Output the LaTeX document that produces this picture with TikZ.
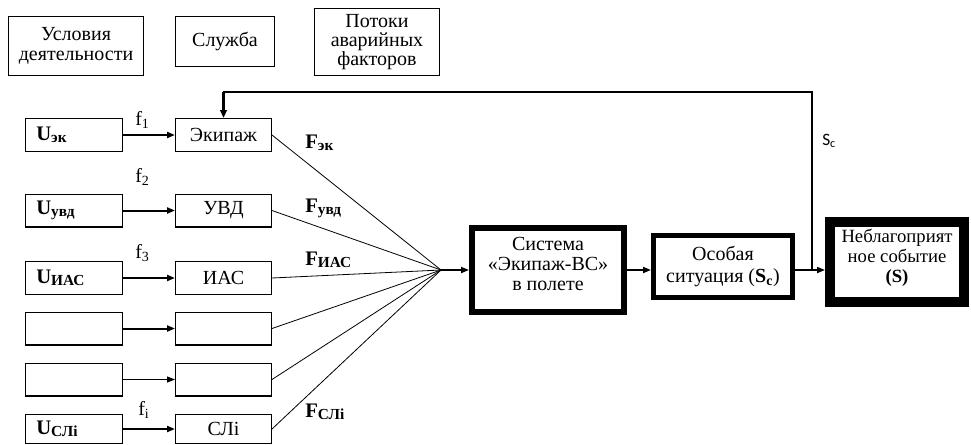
\documentclass[tikz,border=0pt]{standalone}
\usepackage{fontspec}
\setmainfont{Liberation Serif}
\newfontfamily\calibrifont{Carlito}
\usetikzlibrary{arrows.meta}

% bold symbol with a smaller, slightly lowered bold index
\newcommand\idxlbl[2]{{\fontsize{15.5}{16}\selectfont\textbf{#1}}\raisebox{-1.5pt}{\fontsize{11.5}{12}\selectfont\bfseries #2}}

\begin{document}
\begin{tikzpicture}[x=0.75pt,y=-0.75pt,
  font=\fontsize{15}{15}\selectfont,
  frame/.style={draw, line width=0.9pt, inner sep=0pt, align=center},
  ubox/.style={frame, minimum height=24.6pt, text width=56.6pt, inner xsep=8pt, align=left},
  mbox/.style={frame, minimum width=71.85pt, minimum height=24.6pt},
  heavy/.style={draw, inner sep=0pt, align=center},
  link/.style={line width=1.5pt, -{Triangle[length=6pt,width=4.5pt]}},
  ray/.style={line width=0.6pt},
  lbl/.style={inner sep=0pt, anchor=west},
]
\useasboundingbox (0,0) rectangle (971,444);

% header boxes
\node[frame, minimum width=101.1pt, minimum height=44.1pt] (cond) at (76,46) {Условия\\деятельности};
\node[frame, minimum width=74.1pt, minimum height=37.35pt] (serv) at (225,41.5) {Служба};
\node[frame, minimum width=93.6pt, minimum height=50.1pt, font=\fontsize{15}{14}\selectfont] (flow) at (377,42) {Потоки\\аварийных\\факторов};

% conditions column
\node[ubox] (u1) at (74,135) {\idxlbl{U}{эк}};
\node[ubox] (u2) at (74,210.5) {\idxlbl{U}{увд}};
\node[ubox] (u3) at (74,278) {\idxlbl{U}{ИАС}};
\node[ubox] (u4) at (74,328.5) {};
\node[ubox] (u5) at (74,379.5) {};
\node[ubox, minimum height=21.6pt] (u6) at (74,429) {\idxlbl{U}{СЛi}};

% service column
\node[mbox] (m1) at (223.5,135) {Экипаж};
\node[mbox] (m2) at (223.5,210.5) {УВД};
\node[mbox] (m3) at (223.5,278) {ИАС};
\node[mbox] (m4) at (223.5,328.5) {};
\node[mbox] (m5) at (223.5,379.5) {};
\node[mbox, minimum height=21.6pt] (m6) at (223.5,429) {СЛi};

% condition -> service arrows
\draw[link] (u1) -- (m1);
\draw[link] (u2) -- (m2);
\draw[link] (u3) -- (m3);
\draw[link] (u4) -- (m4);
\draw[link, line width=0.9pt] (u5) -- (m5);
\draw[link] (u6) -- (m6);

\node[lbl] (f1) at (135,120) {f\textsubscript{1}};
\node[lbl] (f2) at (135,177) {f\textsubscript{2}};
\node[lbl] (f3) at (135,253) {f\textsubscript{3}};
\node[lbl] (fi) at (138,410) {f\textsubscript{i}};

% factor fan converging on the system
\coordinate (hub) at (441,270);
\foreach \n in {m1,m2,m3,m4,m5,m6} \draw[ray] (\n.east) -- (hub);

\node[lbl] (F1) at (305,143) {\idxlbl{F}{эк}};
\node[lbl] (F2) at (305,208) {\idxlbl{F}{увд}};
\node[lbl] (F3) at (305,260) {\idxlbl{F}{ИАС}};
\node[lbl] (F4) at (305,412) {\idxlbl{F}{СЛi}};

% main chain
\node[heavy, line width=4.5pt, minimum width=114pt, minimum height=63pt] (sys) at (548,270) {Система\\«Экипаж-ВС»\\в полете\\[-6pt]};
\node[heavy, line width=3.75pt, minimum width=104.25pt, minimum height=46.5pt, font=\fontsize{15}{16.5}\selectfont] (sit) at (723,266.5) {Особая\\ситуация (\textbf{S}\textsubscript{\textbf{c}})};
\node[heavy, line width=7.5pt, minimum width=100.5pt, minimum height=60pt, font=\fontsize{14}{15}\selectfont] (evt) at (897,262) {Неблагоприят\\ное событие\\\textbf{(S)}\\[-6pt]};

\draw[link, line width=1.3pt] (hub) -- (sys.west);
\draw[link, line width=1.3pt] (sys.east) -- (sit.west |- sys.east);
\draw[link, line width=1.3pt] (sit.east |- sys.east) -- (evt.west |- sys.east);

% feedback loop back to the crew
\coordinate (jn) at (812,270);
\coordinate (fbtop) at (812,92);
\draw[line width=1.1pt, line cap=rect] (jn) -- (fbtop) -- (m1.north |- fbtop);
\draw[line width=1.8pt, -{Triangle[length=6pt,width=5pt]}] (m1.north |- fbtop) -- (m1.north);
\node[lbl, font=\calibrifont\fontsize{13}{13}\selectfont] (sc) at (822,141) {S\textsubscript{c}};
\end{tikzpicture}
\end{document}
